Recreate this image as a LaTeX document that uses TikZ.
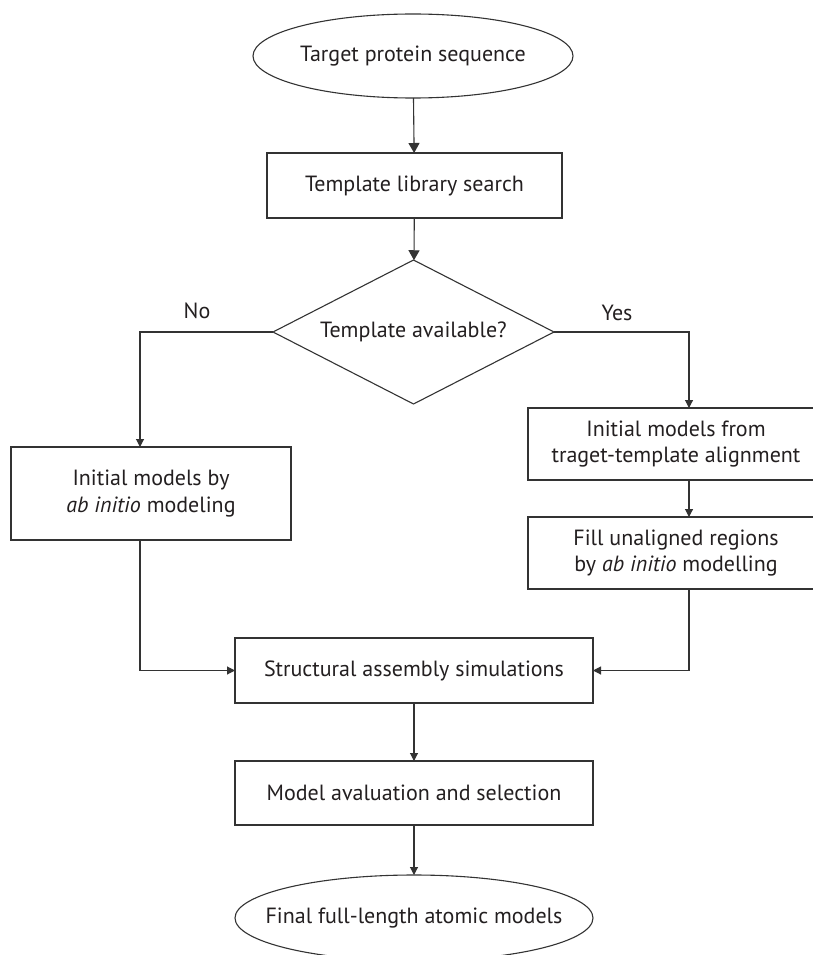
\documentclass[tikz,border=0pt]{standalone}
\usepackage{fontspec}
\setmainfont{PT Sans}
\usetikzlibrary{shapes.geometric,arrows.meta,calc}
\definecolor{ln}{HTML}{333333}
\definecolor{tx}{HTML}{231F20}
\begin{document}
\begin{tikzpicture}[x=1pt,y=-1pt,
  font=\fontsize{22}{26.5}\selectfont, text=tx,
  every node/.style={inner sep=0pt, outer sep=0pt},
  boxnode/.style={draw=ln, line width=1.1pt, rectangle, align=center},
  termnode/.style={draw=ln, line width=1.1pt, ellipse},
  decnode/.style={draw=ln, line width=1.1pt, diamond, aspect=1.95},
  arr/.style={draw=ln, line width=1.1pt, -{Triangle[length=8pt,width=8pt]}},
  bigarr/.style={draw=ln, line width=1.1pt, -{Triangle[length=10pt,width=11pt]}},
]
\useasboundingbox (0,0) rectangle (812,955);
\fill[white] (0,0) rectangle (812,955);

\node[termnode, minimum width=320pt, minimum height=84pt] (t) at (413,56) {\makebox[0pt]{Target protein sequence}};
\node[boxnode, minimum width=295pt, minimum height=65pt] (b1) at (414.5,185.5) {Template library search};
\node[decnode, minimum width=281pt, minimum height=144pt] (d) at (413.5,332) {\makebox[0pt]{Template available?}};
\node[boxnode, minimum width=280pt, minimum height=93pt] (lb) at (151,493.5) {Initial models by\\\textit{ab initio} modeling};
\node[boxnode, minimum width=296pt, minimum height=72pt] (r1) at (676,444) {Initial models from\\traget-template alignment};
\node[boxnode, minimum width=296pt, minimum height=72pt] (r2) at (676,553) {Fill unaligned regions\\by \textit{ab initio} modelling};
\node[boxnode, minimum width=358pt, minimum height=65pt] (s) at (414,670.5) {Structural assembly simulations};
\node[boxnode, minimum width=358pt, minimum height=64pt] (m) at (414,793) {Model avaluation and selection};
\node[termnode, minimum width=358pt, minimum height=86pt] (f) at (414,918) {\makebox[0pt]{Final full-length atomic models}};

\node (no) at (197,311) {No};
\node (yes) at (617,313) {Yes};

\draw[bigarr] (t) -- (b1);
\draw[bigarr] (b1) -- (d);
\draw[arr] (d.west) -| ([xshift=-11pt]lb.north);
\draw[arr] (d.east) -| ([xshift=13pt]r1.north);
\draw[arr] ([xshift=13pt]r1.south) -- ([xshift=13pt]r2.north);
\draw[arr] ([xshift=13pt]r2.south) |- (s.east);
\draw[arr] ([xshift=-11pt]lb.south) |- (s.west);
\draw[arr] (s) -- (m);
\draw[arr] (m) -- (f);
\end{tikzpicture}
\end{document}
